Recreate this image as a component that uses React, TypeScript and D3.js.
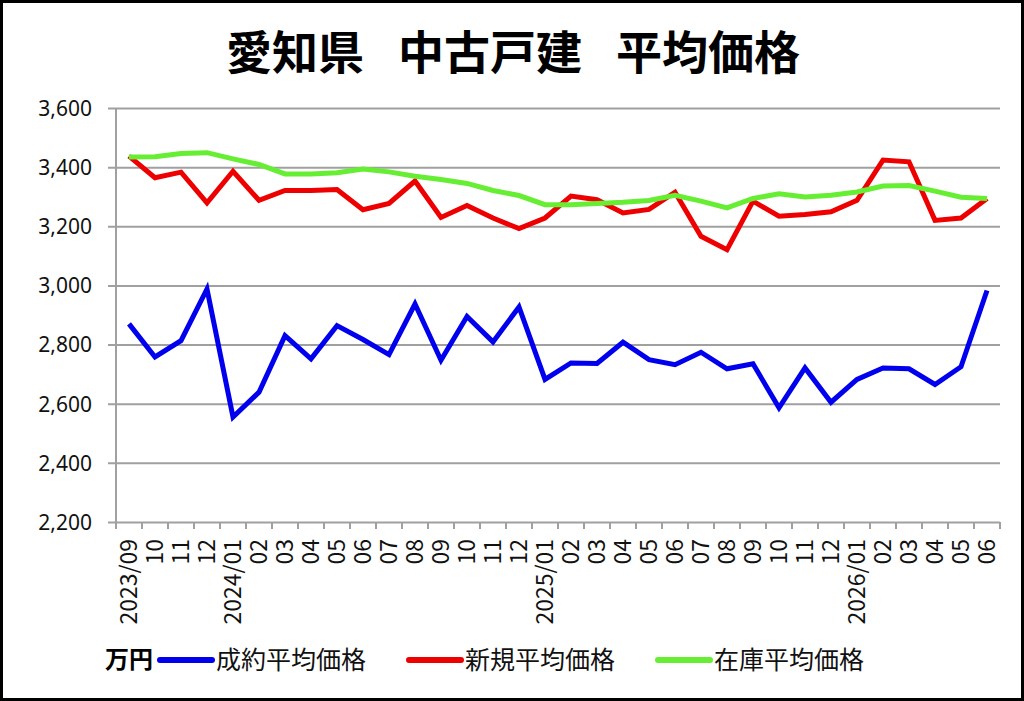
import { useEffect, useRef } from 'react';
import * as d3 from 'd3';

const months = [
  '2023/09', '10', '11', '12', '2024/01', '02', '03', '04', '05', '06', '07', '08',
  '09', '10', '11', '12', '2025/01', '02', '03', '04', '05', '06', '07', '08',
  '09', '10', '11', '12', '2026/01', '02', '03', '04', '05', '06',
];

// 成約平均価格
const closedPrice = [
  2870, 2758, 2813, 2988, 2555, 2639, 2830, 2752, 2864, 2817, 2766, 2937,
  2747, 2895, 2809, 2927, 2682, 2738, 2736, 2808, 2749, 2732, 2774, 2718,
  2735, 2586, 2721, 2605, 2682, 2721, 2718, 2665, 2725, 2983,
];

// 新規平均価格
const newPrice = [
  3437, 3364, 3383, 3279, 3386, 3288, 3321, 3321, 3324, 3256, 3277, 3353,
  3230, 3270, 3228, 3192, 3228, 3302, 3290, 3245, 3257, 3315, 3166, 3121,
  3285, 3234, 3240, 3249, 3288, 3424, 3418, 3220, 3228, 3294,
];

// 在庫平均価格
const stockPrice = [
  3434, 3435, 3446, 3449, 3428, 3409, 3377, 3377, 3381, 3394, 3384, 3369,
  3358, 3345, 3321, 3304, 3273, 3273, 3277, 3281, 3287, 3305, 3285, 3262,
  3294, 3310, 3299, 3305, 3316, 3336, 3338, 3319, 3298, 3294,
];

const yTicks = [2200, 2400, 2600, 2800, 3000, 3200, 3400, 3600];
const titleParts = ['愛知県', '中古戸建', '平均価格'];

const series = [
  { name: '成約平均価格', values: closedPrice, color: '#0000ee' },
  { name: '新規平均価格', values: newPrice, color: '#ee0000' },
  { name: '在庫平均価格', values: stockPrice, color: '#66ee33' },
];

const W = 1024;
const H = 701;
const left = 116;
const right = 1000;
const top = 108;
const bottom = 522;
const jp = '"Noto Sans CJK JP", "Noto Sans", sans-serif';

export default function App() {
  const svgRef = useRef<SVGSVGElement>(null);

  useEffect(() => {
    if (!svgRef.current) return;
    const svg = d3.select(svgRef.current);
    svg.selectAll('*').remove();

    svg.append('rect')
      .attr('x', 1.5).attr('y', 1.5)
      .attr('width', W - 3).attr('height', H - 3)
      .attr('fill', '#fff')
      .attr('stroke', '#000')
      .attr('stroke-width', 3);

    const x = d3.scaleBand<number>()
      .domain(d3.range(months.length))
      .range([left, right]);

    const y = d3.scaleLinear()
      .domain([2200, 3600])
      .range([bottom, top]);

    // Title
    const title = svg.append('text')
      .attr('x', 513)
      .attr('y', 69)
      .attr('text-anchor', 'middle')
      .attr('font-family', jp)
      .attr('font-size', 46)
      .attr('font-weight', 700);
    titleParts.forEach((t, i) => {
      title.append('tspan').attr('dx', i === 0 ? 0 : 34).text(t);
    });

    // Grid lines + y ticks
    const yAxis = d3.axisLeft(y)
      .tickValues(yTicks)
      .tickSize(right - left + 8)
      .tickFormat(d => d3.format(',')(d as number));

    const gy = svg.append('g')
      .attr('transform', `translate(${right},0)`)
      .call(yAxis);
    gy.select('.domain').remove();
    gy.selectAll('.tick line')
      .attr('stroke', '#a0a0a0')
      .attr('stroke-width', 2);
    gy.selectAll('.tick text')
      .attr('x', -(right - left) - 24)
      .attr('dy', '0.35em')
      .attr('fill', '#111')
      .attr('font-family', '"Noto Sans", sans-serif')
      .attr('font-size', 21);

    // y axis line
    svg.append('line')
      .attr('x1', left).attr('x2', left)
      .attr('y1', top).attr('y2', bottom)
      .attr('stroke', '#a0a0a0')
      .attr('stroke-width', 2);

    // x axis boundary ticks
    const bounds = d3.range(months.length + 1).map(i => left + i * x.step());
    svg.append('g')
      .selectAll('line')
      .data(bounds)
      .enter()
      .append('line')
      .attr('x1', d => d).attr('x2', d => d)
      .attr('y1', bottom).attr('y2', bottom + 7)
      .attr('stroke', '#a0a0a0')
      .attr('stroke-width', 2);

    // x labels
    svg.append('g')
      .selectAll('text')
      .data(months)
      .enter()
      .append('text')
      .attr('transform', (_, i) => `translate(${x(i)! + x.bandwidth() / 2 + 8},${bottom + 17}) rotate(-90)`)
      .attr('text-anchor', 'end')
      .attr('font-family', jp)
      .attr('font-size', 23)
      .attr('fill', '#111')
      .text(d => d);

    // Lines
    const line = d3.line<number>()
      .x((_, i) => x(i)! + x.bandwidth() / 2)
      .y(d => y(d));

    series.forEach(s => {
      svg.append('path')
        .datum(s.values)
        .attr('fill', 'none')
        .attr('stroke', s.color)
        .attr('stroke-width', 5)
        .attr('stroke-linejoin', 'miter')
        .attr('d', line);
    });

    // Legend
    const legendY = 660;
    svg.append('text')
      .attr('x', 105)
      .attr('y', legendY)
      .attr('dy', '0.35em')
      .attr('font-family', jp)
      .attr('font-size', 24)
      .attr('font-weight', 700)
      .text('万円');

    const legend = svg.append('g')
      .selectAll('g')
      .data(series)
      .enter()
      .append('g')
      .attr('transform', (_, i) => `translate(${160 + i * 249},${legendY})`);

    legend.append('line')
      .attr('x1', 0).attr('x2', 52)
      .attr('y1', 0).attr('y2', 0)
      .attr('stroke', d => d.color)
      .attr('stroke-width', 6)
      .attr('stroke-linecap', 'round');

    legend.append('text')
      .attr('x', 56)
      .attr('dy', '0.35em')
      .attr('font-family', jp)
      .attr('font-size', 25)
      .attr('fill', '#111')
      .text(d => d.name);
  }, []);

  return (
    <svg
      ref={svgRef}
      width={W}
      height={H}
      style={{ position: 'absolute', left: 0, top: 0, display: 'block' }}
    />
  );
}
